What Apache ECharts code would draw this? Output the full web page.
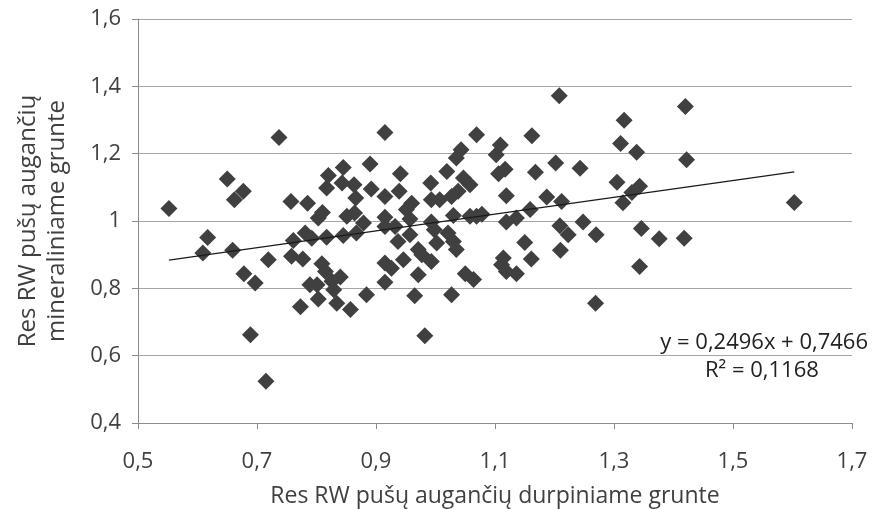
<!DOCTYPE html>
<html>
<head>
<meta charset="utf-8">
<script src="https://cdn.jsdelivr.net/npm/echarts@6/dist/echarts.min.js"></script>
<style>html,body{margin:0;padding:0;background:#fff}#c{width:873px;height:509px}</style>
</head>
<body>
<div id="c"></div>
<script>
const xValues = [
0.552,0.609,0.617,0.650,0.659,0.662,0.677,0.678,0.689,0.697,0.715,0.719,0.737,0.757,0.758,0.761,0.773,0.777,0.781,0.785,
0.789,0.792,0.801,0.803,0.803,0.809,0.810,0.815,0.817,0.817,0.820,0.826,0.829,0.834,0.840,0.843,0.845,0.845,0.851,0.857,
0.863,0.864,0.866,0.867,0.879,0.884,0.890,0.892,
0.915,0.915,0.915,0.915,0.915,0.915,0.926,0.932,0.937,0.939,0.941,0.946,0.951,0.960,0.957,0.957,0.965,0.971,0.971,0.977,
0.982,0.992,0.993,0.993,0.993,0.998,1.002,1.007,1.019,1.021,1.027,1.027,1.030,1.030,1.035,1.035,1.038,1.043,1.047,1.050,
1.058,1.058,1.064,1.069,1.069,1.078,1.102,1.106,1.109,1.111,1.114,1.117,1.119,1.119,1.119,1.136,1.136,1.150,1.159,1.161,
1.162,1.168,1.187,1.202,1.208,1.209,1.210,1.212,1.223,1.243,1.248,1.269,1.270,1.305,1.311,1.315,1.317,1.330,1.338,1.343,
1.343,1.346,1.376,1.418,1.420,1.422,1.603
];
const yValues = [
1.037,0.905,0.951,1.125,0.913,1.063,1.088,0.843,0.662,0.816,0.524,0.885,1.248,1.058,0.895,0.942,0.745,0.887,0.964,1.053,
0.811,0.949,0.811,1.009,0.768,0.873,1.025,0.850,0.952,1.098,1.135,0.821,0.796,0.756,0.834,1.113,1.159,0.957,1.014,0.737,
1.108,1.024,1.068,0.964,0.994,0.781,1.169,1.095,
1.263,1.073,1.011,0.984,0.875,0.818,0.860,0.984,0.939,1.088,1.140,0.885,1.034,1.053,1.006,0.959,0.778,0.915,0.840,0.900,
0.659,1.113,1.063,0.997,0.880,0.974,0.935,1.063,1.147,0.964,1.073,0.781,1.016,0.939,1.187,0.915,1.088,1.212,1.128,0.843,
1.108,1.014,0.826,1.256,1.014,1.020,1.197,1.140,1.226,0.870,0.890,1.154,1.075,0.997,0.850,1.009,0.843,0.936,1.034,0.887,
1.253,1.145,1.071,1.172,1.372,0.986,0.913,1.058,0.959,1.157,0.997,0.756,0.959,1.115,1.230,1.054,1.299,1.085,1.204,1.103,
0.865,0.978,0.947,0.949,1.340,1.182,1.055
];
const trendX = [0.552, 1.603];
const trendY = [0.884, 1.146];
const xTicks = [0.5,0.7,0.9,1.1,1.3,1.5,1.7];
const yTicks = [0.4,0.6,0.8,1.0,1.2,1.4,1.6];
const xTitle = 'Res RW pušų augančių durpiniame grunte';
const yTitle = 'Res RW pušų augančių\nmineraliniame grunte';
const eqText = 'y = 0,2496x + 0,7466';
const r2Text = 'R² = 0,1168';

const FONT = '"Open Sans"';
const fmt = v => { const r = Math.round(v*10)/10; return String(r).replace('.', ','); };
const pts = xValues.map((x,i)=>[x,yValues[i]]);
const chart = echarts.init(document.getElementById('c'), null, {renderer:'canvas'});
chart.setOption({
  animation:false,
  backgroundColor:'#fff',
  grid:{left:138,right:21,top:19,bottom:86,containLabel:false,outerBoundsMode:'none'},
  xAxis:{type:'value',min:0.5,max:1.7,interval:0.2,
    axisLine:{show:true,onZero:false,lineStyle:{color:'#8c8c8c',width:1}},
    axisTick:{show:true,length:6,lineStyle:{color:'#8c8c8c'}},
    splitLine:{show:false},
    axisLabel:{formatter:fmt,color:'#404040',fontFamily:FONT,fontSize:22,margin:28},
    name:xTitle,nameLocation:'middle',nameGap:62,
    nameTextStyle:{color:'#404040',fontFamily:FONT,fontSize:23}},
  yAxis:{type:'value',min:0.4,max:1.6,interval:0.2,
    axisLine:{show:true,onZero:false,lineStyle:{color:'#8c8c8c',width:1}},
    axisTick:{show:true,length:6,lineStyle:{color:'#8c8c8c'}},
    splitLine:{show:true,lineStyle:{color:'#a6a6a6',width:1}},
    axisLabel:{formatter:fmt,color:'#404040',fontFamily:FONT,fontSize:22,margin:17},
    name:yTitle,nameLocation:'middle',nameGap:66,nameRotate:90,
    nameTextStyle:{color:'#404040',fontFamily:FONT,fontSize:24,lineHeight:29,align:'center'}},
  series:[
    {type:'scatter',data:pts,symbol:'diamond',symbolSize:17,
      itemStyle:{color:'#404040',opacity:1},z:3},
    {type:'line',data:trendX.map((x,i)=>[x,trendY[i]]),symbol:'none',
      lineStyle:{color:'#1a1a1a',width:1.3},z:4}
  ],
  graphic:[
    {type:'text',right:5,top:332,style:{text:eqText,fill:'#222',font:'22px '+FONT,textAlign:'right'}},
    {type:'text',left:705,top:360,style:{text:r2Text,fill:'#222',font:'22px '+FONT}}
  ]
});
</script>
</body>
</html>
